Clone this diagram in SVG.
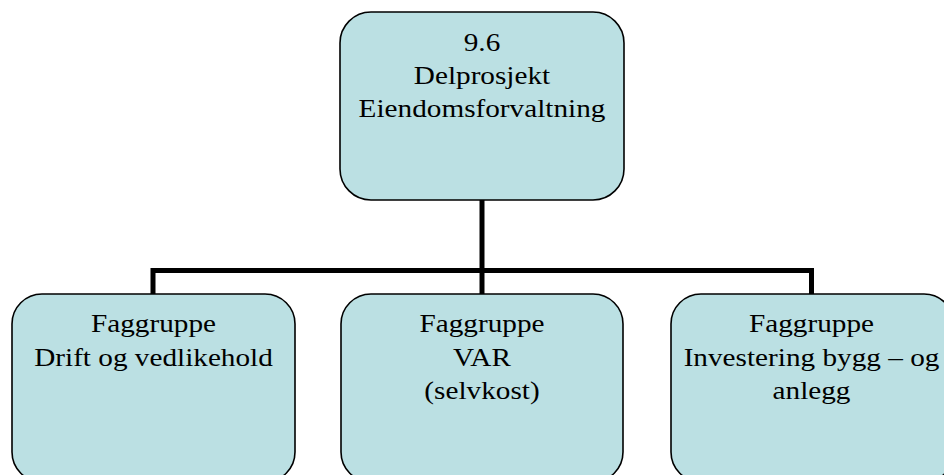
<svg xmlns="http://www.w3.org/2000/svg" width="944" height="475" viewBox="0 0 944 475">
<style>
.box{fill:#BBE0E3;stroke:#000;stroke-width:1.6}
.lbl{font-family:"Liberation Serif","Times New Roman",serif;font-size:26px;fill:#000;text-anchor:middle}
.conn{fill:none;stroke:#000;stroke-width:5;stroke-linecap:butt;stroke-linejoin:miter}
</style>
<rect width="944" height="475" fill="#fff"/>
<g id="connectors">
<path class="conn" d="M482,200 V294"/>
<path class="conn" d="M153,294 V270.5 H811.5 V294"/>
</g>
<g id="node-top">
<rect class="box" x="340" y="12" width="284" height="188" rx="31" ry="31"/>
<g transform="translate(482,0) scale(1.125,1)">
<text class="lbl" x="0" y="51">9.6</text>
<text class="lbl" x="0" y="84">Delprosjekt</text>
<text class="lbl" x="0" y="117">Eiendomsforvaltning</text>
</g>
</g>
<g id="node-drift">
<rect class="box" x="12" y="294" width="283" height="188" rx="30" ry="30"/>
<g transform="translate(153.5,0) scale(1.125,1)">
<text class="lbl" x="0" y="332">Faggruppe</text>
<text class="lbl" x="0" y="366">Drift og vedlikehold</text>
</g>
</g>
<g id="node-var">
<rect class="box" x="341" y="294" width="282" height="188" rx="30" ry="30"/>
<g transform="translate(482,0) scale(1.125,1)">
<text class="lbl" x="0" y="332">Faggruppe</text>
<text class="lbl" x="0" y="366">VAR</text>
<text class="lbl" x="0" y="399">(selvkost)</text>
</g>
</g>
<g id="node-investering">
<rect class="box" x="671" y="294" width="283" height="188" rx="30" ry="30"/>
<g transform="translate(811.5,0) scale(1.125,1)">
<text class="lbl" x="0" y="332">Faggruppe</text>
<text class="lbl" x="0" y="366">Investering bygg – og</text>
<text class="lbl" x="0" y="399">anlegg</text>
</g>
</g>
</svg>
